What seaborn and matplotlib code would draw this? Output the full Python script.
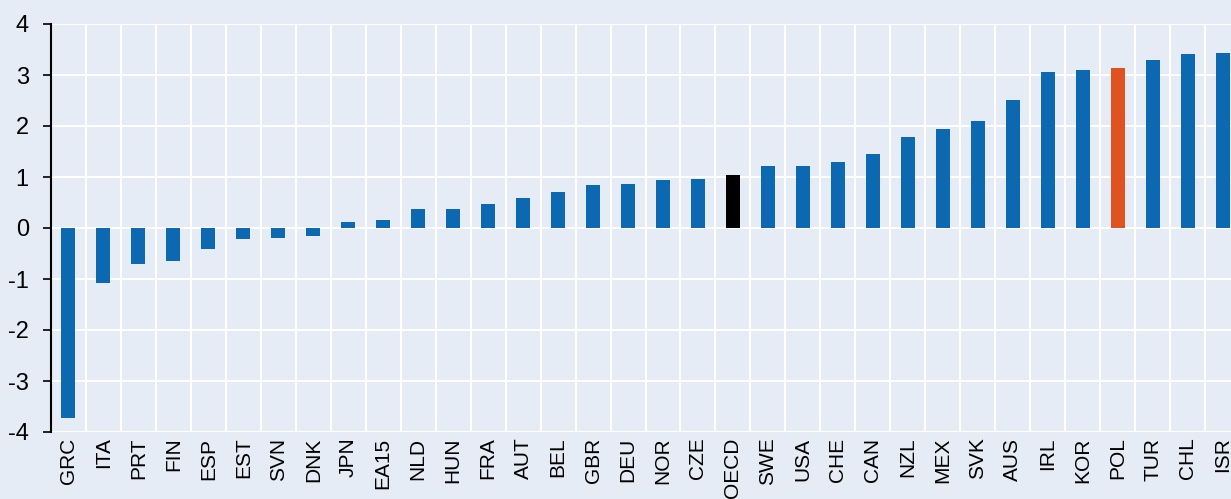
import matplotlib
matplotlib.use("Agg")
import matplotlib.pyplot as plt
import seaborn as sns
import numpy as np

# data
countries = ["GRC", "ITA", "PRT", "FIN", "ESP", "EST", "SVN", "DNK", "JPN", "EA15",
             "NLD", "HUN", "FRA", "AUT", "BEL", "GBR", "DEU", "NOR", "CZE", "OECD",
             "SWE", "USA", "CHE", "CAN", "NZL", "MEX", "SVK", "AUS", "IRL", "KOR",
             "POL", "TUR", "CHL", "ISR"]
values = [-3.72, -1.08, -0.71, -0.64, -0.42, -0.21, -0.19, -0.16, 0.12, 0.15,
          0.37, 0.38, 0.48, 0.58, 0.71, 0.85, 0.87, 0.94, 0.97, 1.03,
          1.22, 1.22, 1.30, 1.45, 1.78, 1.95, 2.09, 2.50, 3.06, 3.10,
          3.13, 3.29, 3.41, 3.43]
highlight = {"OECD": "#000000", "POL": "#e0521f"}
y_ticks = [-4, -3, -2, -1, 0, 1, 2, 3, 4]

BG = "#e5ecf5"
BLUE = "#0c68b0"

sns.set_theme(style="white")
plt.rcParams["font.family"] = ["Liberation Sans", "DejaVu Sans"]
plt.rcParams["xtick.color"] = "black"
plt.rcParams["ytick.color"] = "black"
plt.rcParams["text.color"] = "black"

palette = {c: highlight.get(c, BLUE) for c in countries}

fig = plt.figure(figsize=(12.31, 4.99), dpi=100, facecolor=BG)
ax = fig.add_axes([51 / 1231, 67 / 499, 1189 / 1231, 408 / 499], facecolor=BG)

sns.barplot(x=countries, y=values, hue=countries, palette=palette, order=countries,
            legend=False, width=0.4, saturation=1, linewidth=0, ax=ax)

n = len(countries)
ax.set_xlim(-0.5, n - 0.5)
ax.set_ylim(-4, 4)
ax.set_yticks(y_ticks)
ax.set_yticklabels([str(t) for t in y_ticks], fontsize=17, color="black")

# gridlines: white horizontals at integers, verticals at category boundaries
ax.set_xticks(np.arange(n))
ax.set_xticks(np.arange(n + 1) - 0.5, minor=True)
ax.grid(True, axis="y", which="major", color="white", linewidth=1.5)
ax.grid(True, axis="x", which="minor", color="white", linewidth=1.5)
ax.grid(False, axis="x", which="major")
ax.set_axisbelow(True)

ax.set_xticklabels(countries, rotation=90, fontsize=15, color="black")
ax.tick_params(axis="x", which="both", length=0, pad=4)
ax.tick_params(axis="y", which="major", length=6, width=1.2, color="black",
               pad=10, left=True)

for side in ["top", "right", "bottom"]:
    ax.spines[side].set_visible(False)
ax.spines["left"].set_color("black")
ax.spines["left"].set_linewidth(1.5)

# zero line with small ticks at the category boundaries
sec = ax.secondary_xaxis(0.5)
sec.set_xticks([])
sec.set_xticks(np.arange(n + 1) - 0.5, minor=True)
sec.tick_params(axis="x", which="minor", length=6, width=1.2, color="black",
                direction="out", labelbottom=False)
sec.spines["bottom"].set_color("black")
sec.spines["bottom"].set_linewidth(1.6)

ax.set_xlabel("")
ax.set_ylabel("")

fig.savefig("out.png", dpi=100, facecolor=BG)
